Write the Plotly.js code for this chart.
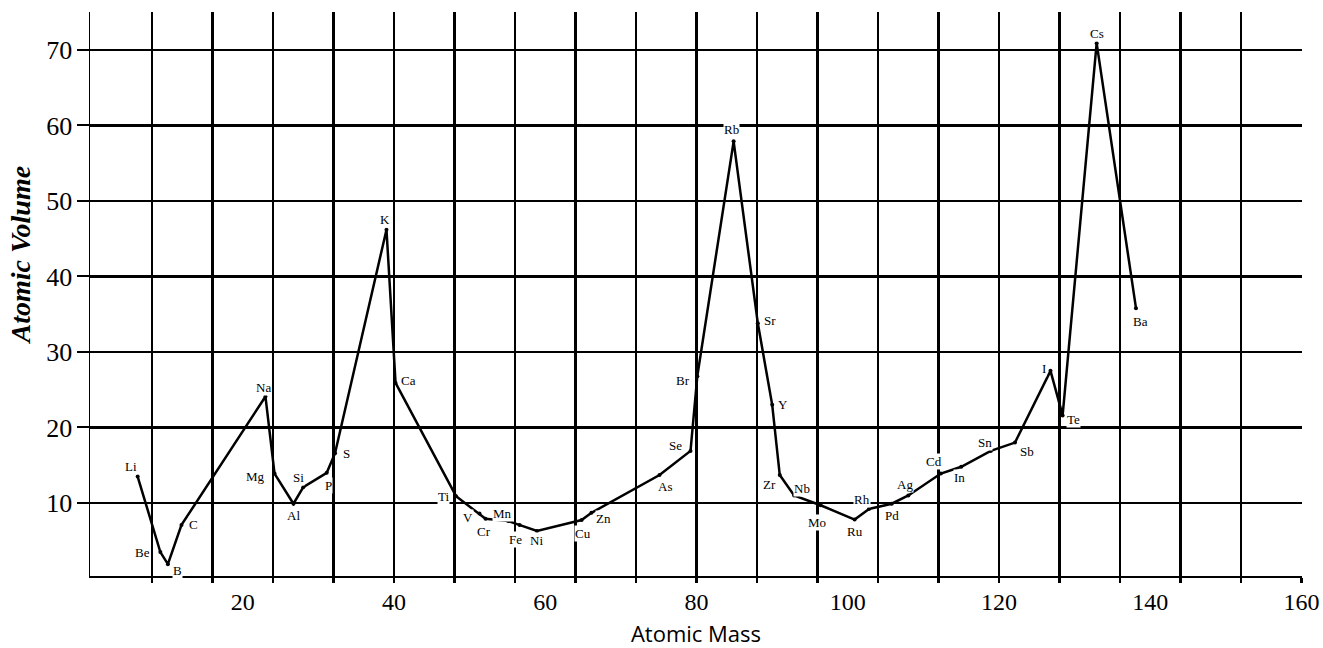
<!DOCTYPE html>
<html>
<head>
<meta charset="utf-8">
<script src="https://cdn.plot.ly/plotly-3.0.1.min.js"></script>
<style>
  html, body { margin: 0; padding: 0; background: #fff; }
  #chart { width: 1323px; height: 648px; }
</style>
</head>
<body>
<div id="chart"></div>
<script>
// ---- data ----
const elements = ['Li','Be','B','C','Na','Mg','Al','Si','P','S','K','Ca','Ti','V','Cr','Mn','Fe','Ni','Cu','Zn','As','Se','Br','Rb','Sr','Y','Zr','Nb','Mo','Ru','Rh','Pd','Ag','Cd','In','Sn','Sb','I','Te','Cs','Ba'];
const atomicMass = [6.1, 9.1, 10.1, 11.9, 23.0, 24.2, 26.7, 28.0, 31.1, 32.2, 39.0, 40.2, 48.2, 51.3, 52.1, 55.1, 56.6, 58.9, 64.8, 66.1, 75.1, 79.2, 80.1, 84.9, 88.1, 90.0, 91.0, 92.9, 96.4, 100.9, 102.8, 105.8, 108.0, 112.3, 115.0, 118.9, 122.1, 126.8, 128.4, 132.9, 138.1];
const atomicVolume = [13.5, 3.5, 1.9, 7.1, 24.1, 13.9, 9.9, 12.1, 14.0, 16.6, 46.2, 25.9, 10.9, 8.6, 7.9, 7.6, 7.1, 6.3, 7.75, 8.7, 13.7, 16.9, 26.8, 57.9, 33.8, 23.0, 13.7, 11.0, 9.7, 7.8, 9.2, 9.9, 11.0, 13.9, 14.8, 16.9, 18.0, 27.5, 21.6, 70.9, 35.8];
const xTickVals = [20, 40, 60, 80, 100, 120, 140, 160];
const yTickVals = [10, 20, 30, 40, 50, 60, 70];

// ---- style: grid spacing and label placement (pixel offsets, [right, down]) ----
const xGridStep = 8;
const xGridVals = [];
for (let v = xGridStep; v <= 160; v += xGridStep) xGridVals.push(v);
const labelOffset = {Li:[-7,-10], Be:[-18,0], B:[10,6], C:[12,0], Na:[-2,-9], Mg:[-19,3], Al:[0,12], Si:[-5,-10], P:[2,13], S:[11,0], K:[-1,-10], Ca:[13,-2], Ti:[-13,0], V:[-12,4], Cr:[-2,13], Mn:[-6,-8], Fe:[-4,15], Ni:[0,10], Cu:[1,14], Zn:[12,6], As:[5,11], Se:[-15,-5], Br:[-14,4], Rb:[-2,-12], Sr:[12,-3], Y:[11,0], Zr:[-10,9], Nb:[8,-7], Mo:[-4,17], Ru:[0,12], Rh:[-7,-10], Pd:[0,12], Ag:[-3,-11], Cd:[-7,-12], In:[-2,11], Sn:[-6,-8], Sb:[12,9], I:[-7,-2], Te:[11,4], Cs:[0,-10], Ba:[5,13]};

const serif = '"Liberation Serif", "Times New Roman", serif';

const trace = {
  x: atomicMass,
  y: atomicVolume,
  text: elements,
  type: 'scatter',
  mode: 'lines+markers',
  line: {color: '#000', width: 2.5},
  marker: {color: '#000', size: 4},
  hoverinfo: 'text+x+y',
  cliponaxis: false
};

const annotations = elements.map((el, i) => {
  const off = labelOffset[el] || [0, -10];
  return {
    x: atomicMass[i], y: atomicVolume[i], xref: 'x', yref: 'y',
    text: el, showarrow: false,
    xanchor: 'center', yanchor: 'middle',
    xshift: off[0], yshift: -off[1],
    bgcolor: '#fff', borderpad: 0,
    font: {family: serif, size: 13, color: '#000'}
  };
});

annotations.push({
  xref: 'paper', yref: 'paper', x: -0.057, y: 0.57,
  text: 'Atomic Volume', showarrow: false, textangle: -90,
  xanchor: 'center', yanchor: 'middle',
  font: {family: serif, size: 28, color: '#000', weight: 'bold', style: 'italic'}
});

const layout = {
  width: 1323, height: 648,
  margin: {l: 90, r: 21, t: 12, b: 72, pad: 0},
  paper_bgcolor: '#fff', plot_bgcolor: '#fff',
  showlegend: false,
  xaxis: {
    range: [-0.2, 160.05],
    tickmode: 'array', tickvals: xTickVals, ticktext: xTickVals.map(String),
    ticks: '', showgrid: false, zeroline: false,
    showline: true, linecolor: '#000', linewidth: 1.5,
    tickfont: {family: serif, size: 24, color: '#000'},
    ticklabelstandoff: 4,
    minor: {tickmode: 'array', tickvals: xGridVals, showgrid: true, gridcolor: '#000', gridwidth: 2.5,
            ticks: 'outside', ticklen: 5, tickwidth: 2.5, tickcolor: '#000'},
    title: {text: 'Atomic Mass', standoff: 21,
            font: {family: '"Open Sans", "Noto Sans", sans-serif', size: 22, color: '#000'}}
  },
  yaxis: {
    range: [0.33, 75.03],
    tickmode: 'array', tickvals: yTickVals, ticktext: yTickVals.map(String),
    ticks: 'outside', ticklen: 12, tickwidth: 2, tickcolor: '#000',
    showgrid: true, gridcolor: '#000', gridwidth: 1.5, zeroline: false,
    showline: true, linecolor: '#000', linewidth: 1.5,
    tickfont: {family: serif, size: 26, color: '#000'},
    ticklabelstandoff: -1,
    minor: {tickmode: 'array', tickvals: [20, 30, 40, 50, 60, 70], showgrid: true,
            gridcolor: '#000', gridwidth: 2.5, ticks: ''}
  },
  annotations: annotations
};

Plotly.newPlot('chart', [trace], layout, {displayModeBar: false, staticPlot: true});
</script>
</body>
</html>
